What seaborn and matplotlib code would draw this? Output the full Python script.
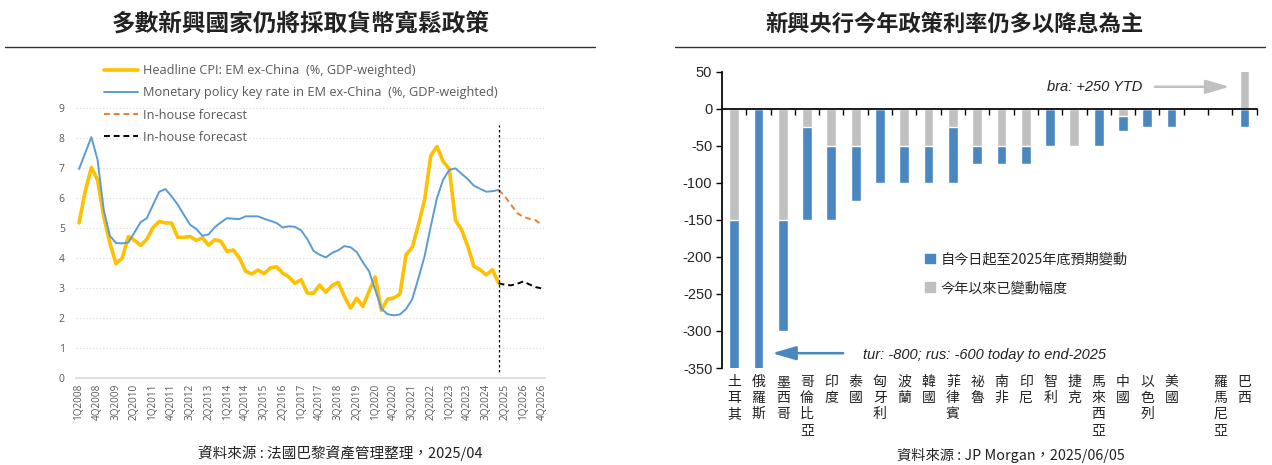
import numpy as np
import pandas as pd
import matplotlib
matplotlib.use("Agg")
import matplotlib.pyplot as plt
from matplotlib.lines import Line2D
from matplotlib.patches import Patch
import seaborn as sns

sns.set_theme(style="white")
plt.rcParams['font.family'] = ['Noto Sans CJK TC', 'DejaVu Sans']
plt.rcParams['axes.unicode_minus'] = False

# ---- left chart data (quarterly, 1Q2008 .. 1Q2025 actual) ----
cpi = [5.17, 6.22, 7.02, 6.61, 5.39, 4.50, 3.81, 4.00, 4.72, 4.59,
       4.42, 4.63, 5.02, 5.22, 5.17, 5.17, 4.69, 4.69, 4.72, 4.59,
       4.67, 4.43, 4.61, 4.56, 4.22, 4.27, 4.00, 3.56, 3.47, 3.60,
       3.48, 3.67, 3.71, 3.50, 3.37, 3.16, 3.28, 2.83, 2.83, 3.10,
       2.86, 3.08, 3.19, 2.72, 2.33, 2.66, 2.39, 2.89, 3.37, 2.26,
       2.63, 2.67, 2.80, 4.11, 4.36, 5.11, 5.94, 7.41, 7.72, 7.22,
       6.97, 5.26, 4.94, 4.39, 3.72, 3.61, 3.44, 3.61, 3.17]
policy = [6.97, 7.50, 8.03, 7.28, 5.61, 4.74, 4.50, 4.49, 4.52, 4.86,
          5.20, 5.33, 5.78, 6.21, 6.30, 6.06, 5.78, 5.44, 5.11, 4.97,
          4.74, 4.79, 5.03, 5.19, 5.33, 5.31, 5.30, 5.39, 5.39, 5.39,
          5.31, 5.24, 5.17, 5.02, 5.06, 5.04, 4.92, 4.63, 4.24, 4.11,
          4.02, 4.17, 4.26, 4.40, 4.36, 4.20, 3.86, 3.56, 2.94, 2.31,
          2.13, 2.09, 2.12, 2.30, 2.63, 3.33, 4.06, 5.06, 6.00, 6.61,
          6.94, 6.99, 6.81, 6.63, 6.41, 6.31, 6.21, 6.23, 6.27]
# forecasts 1Q2025 .. 4Q2026
policy_fc = [6.27, 6.06, 5.78, 5.50, 5.37, 5.31, 5.26, 5.10]
cpi_fc = [3.16, 3.11, 3.09, 3.14, 3.22, 3.12, 3.03, 2.99]

tick_labels = ['1Q2008', '4Q2008', '3Q2009', '2Q2010', '1Q2011', '4Q2011',
               '3Q2012', '2Q2013', '1Q2014', '4Q2014', '3Q2015', '2Q2016',
               '1Q2017', '4Q2017', '3Q2018', '2Q2019', '1Q2020', '4Q2020',
               '3Q2021', '2Q2022', '1Q2023', '4Q2023', '3Q2024', '2Q2025',
               '1Q2026', '4Q2026']

# ---- right chart data (bp) ----
countries = ['土耳其', '俄羅斯', '墨西哥', '哥倫比亞', '印度', '泰國', '匈牙利',
             '波蘭', '韓國', '菲律賓', '祕魯', '南非', '印尼', '智利', '捷克',
             '馬來西亞', '中國', '以色列', '美國', '', '羅馬尼亞', '巴西']
ytd_change = [-150, 0, -150, -25, -50, -50, 0, -50, -50, -25, -50, -50, -50,
              0, -50, 0, -10, 0, 0, 0, 0, 250]
to_end_2025 = [-800, -600, -150, -125, -100, -75, -100, -50, -50, -75, -25,
               -25, -25, -50, 0, -50, -20, -25, -25, -1, 0, -25]

YELLOW = '#FFC000'
LBLUE = '#5B9BD5'
ORANGE = '#ED7D31'
BAR_BLUE = '#4A86C0'
BAR_GRAY = '#C0C0C0'
TXT = '#595959'
LATIN = ['Open Sans', 'DejaVu Sans']
ARIAL = ['Liberation Sans', 'DejaVu Sans']

fig = plt.figure(figsize=(12.72, 4.65), dpi=100)

# ================= left chart =================
ax1 = fig.add_axes([0.0597, 0.187, 0.3687, 0.5806])
n_act = len(cpi)
x_act = np.arange(n_act)
x_fc = np.arange(n_act - 1, n_act - 1 + len(cpi_fc))

sns.lineplot(x=x_act, y=cpi, ax=ax1, color=YELLOW, lw=2.6,
             label='Headline CPI: EM ex-China  (%, GDP-weighted)')
sns.lineplot(x=x_act, y=policy, ax=ax1, color=LBLUE, lw=1.4,
             label='Monetary policy key rate in EM ex-China  (%, GDP-weighted)')
sns.lineplot(x=x_fc, y=policy_fc, ax=ax1, color=ORANGE, lw=1.4,
             linestyle=(0, (3, 2)), label='In-house forecast')
sns.lineplot(x=x_fc, y=cpi_fc, ax=ax1, color='black', lw=1.4,
             linestyle=(0, (3, 2)), label='In-house forecast')
ax1.vlines(n_act - 1, 0.2, 8.45, color='black', lw=0.9, linestyles=(0, (2, 2)))

ax1.set_xlim(-0.5, 75.5)
ax1.set_ylim(0, 9)
ax1.set_yticks(range(0, 10))
ax1.set_xticks(np.arange(0, 76, 3))
ax1.set_xticklabels(tick_labels, rotation=90, fontsize=7.2, color=TXT,
                    family=LATIN)
ax1.tick_params(axis='y', labelsize=7.5, labelcolor=TXT, length=0, pad=8)
ax1.tick_params(axis='x', length=0, pad=4)
for lab in ax1.get_yticklabels():
    lab.set_family(LATIN)
ax1.grid(axis='y', color='#d9d9d9', lw=0.8, linestyle=(0, (1, 2)))
for s in ['top', 'right', 'left']:
    ax1.spines[s].set_visible(False)
ax1.spines['bottom'].set_color('#d9d9d9')
ax1.spines['bottom'].set_linewidth(1.2)
ax1.set_xlabel('')
ax1.set_ylabel('')
ax1.legend(loc='upper left', bbox_to_anchor=(0.082, 0.862),
           bbox_transform=fig.transFigure, frameon=False,
           labelcolor=TXT, handlelength=2.6, handletextpad=0.4,
           labelspacing=0.72, borderpad=0, borderaxespad=0,
           prop={'family': LATIN, 'size': 9.2})

# ================= right chart =================
ax2 = fig.add_axes([0.5676, 0.2086, 0.4203, 0.6366])
df = pd.DataFrame({'country': countries, 'ytd': ytd_change, 'fwd': to_end_2025})
# blue part starts where the negative YTD move ends
df['total'] = df['ytd'].clip(upper=0) + df['fwd']

sns.barplot(data=df, x='country', y='total', order=countries, color=BAR_BLUE,
            saturation=1, width=0.4, errorbar=None, ax=ax2)
sns.barplot(data=df, x='country', y='ytd', order=countries, color=BAR_GRAY,
            saturation=1, width=0.4, errorbar=None, ax=ax2)

ax2.set_xlim(-0.5, len(countries) - 0.5)
ax2.set_ylim(-350, 50)
ax2.set_yticks(range(-350, 51, 50))
ax2.tick_params(axis='y', labelsize=10.5, length=4, width=1, color='black',
                direction='out', left=True, pad=3)
for lab in ax2.get_yticklabels():
    lab.set_family(ARIAL)
ax2.spines['top'].set_visible(False)
ax2.spines['right'].set_visible(False)
ax2.spines['left'].set_color('black')
ax2.spines['bottom'].set_color('black')
ax2.spines['bottom'].set_position(('data', 0))
ax2.set_xticks(range(len(countries)))
ax2.set_xticklabels([''] * len(countries))
ax2.tick_params(axis='x', which='major', length=0)
ax2.set_xticks(np.arange(0.5, len(countries), 1), minor=True)
ax2.tick_params(axis='x', which='minor', length=4, width=1, color='black',
                direction='out', bottom=True)
ax2.set_xlabel('')
ax2.set_ylabel('')

for i, name in enumerate(countries):
    ax2.annotate('\n'.join(name), xy=(i, 0), xycoords=('data', 'axes fraction'),
                 xytext=(0, -5), textcoords='offset points', ha='center',
                 va='top', fontsize=10, linespacing=1.18, color='#222222')

ax2.annotate('', xy=(20.5, 30), xytext=(17.2, 30),
             arrowprops=dict(arrowstyle='-|>,head_width=0.35,head_length=1.2',
                             color=BAR_GRAY, lw=1.8))
ax2.text(16.8, 30, 'bra: +250 YTD', ha='right', va='center', fontsize=10.5,
         style='italic', family=ARIAL, color='#222222')
ax2.annotate('', xy=(1.45, -330), xytext=(4.6, -330),
             arrowprops=dict(arrowstyle='-|>,head_width=0.35,head_length=1.2',
                             color=BAR_BLUE, lw=1.8))
ax2.text(5.3, -332, 'tur: -800; rus: -600 today to end-2025', ha='left',
         va='center', fontsize=10.5, style='italic', family=ARIAL,
         color='#222222')

ax2.legend(handles=[Patch(color=BAR_BLUE, label='自今日起至2025年底預期變動'),
                    Patch(color=BAR_GRAY, label='今年以來已變動幅度')],
           loc='upper left', bbox_to_anchor=(0.727, 0.457),
           bbox_transform=fig.transFigure, frameon=False, fontsize=10.2,
           handlelength=0.7, handleheight=0.7, handletextpad=0.4,
           labelspacing=1.05, borderpad=0, borderaxespad=0)

# ================= titles, rules, sources =================
fig.text(301 / 1272, 1 - 25 / 465, '多數新興國家仍將採取貨幣寬鬆政策', ha='center',
         va='center', fontsize=17, fontweight='bold', color='#222222')
fig.text(955 / 1272, 1 - 25 / 465, '新興央行今年政策利率仍多以降息為主', ha='center',
         va='center', fontsize=16, fontweight='bold', color='#222222')
fig.add_artist(Line2D([5 / 1272, 595 / 1272], [1 - 47 / 465] * 2,
                      color='#333333', lw=1))
fig.add_artist(Line2D([675 / 1272, 1265 / 1272], [1 - 47 / 465] * 2,
                      color='#333333', lw=1))
fig.text(340 / 1272, 1 - 453 / 465, '資料來源 : 法國巴黎資產管理整理，2025/04',
         ha='center', va='center', fontsize=10.5, color='#222222')
fig.text(1011 / 1272, 1 - 455 / 465, '資料來源 : JP Morgan，2025/06/05',
         ha='center', va='center', fontsize=10.3, color='#222222')

fig.savefig('out.png', dpi=100, facecolor='white')
